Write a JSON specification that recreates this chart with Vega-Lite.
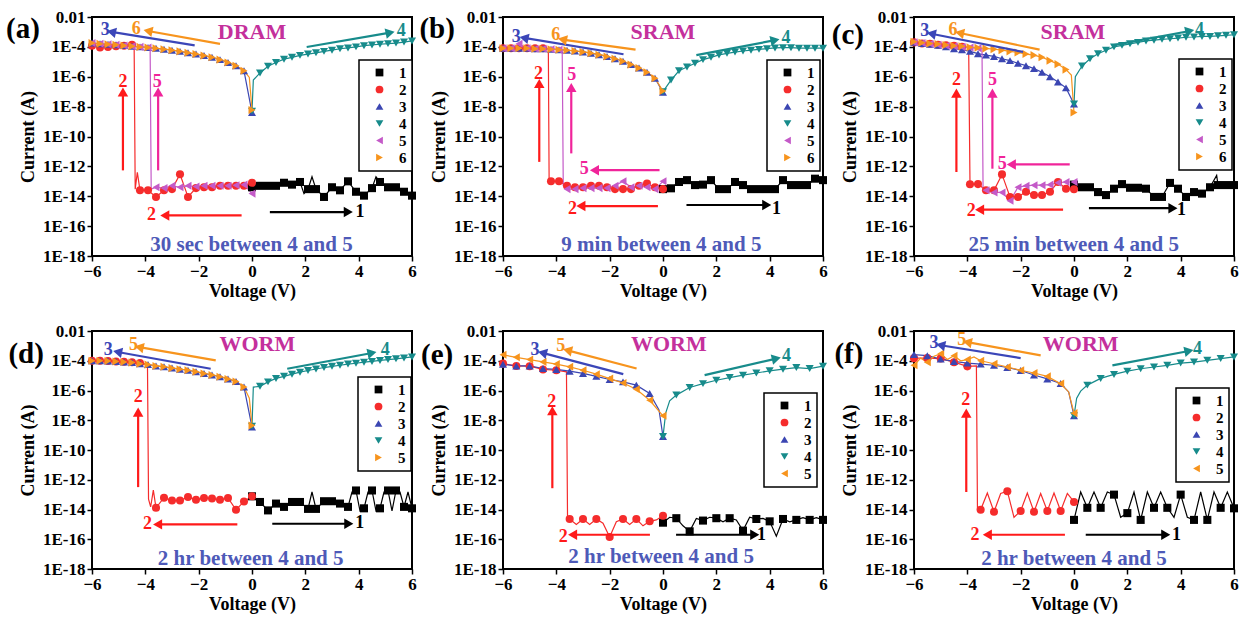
{
"$schema":"https://vega.github.io/schema/vega-lite/v6.json",
"padding":{"left":5,"top":7,"right":0,"bottom":0},
"background":"#ffffff",
"datasets":{
"a":[
{"s":"1","v":0,"i":4e-14},{"s":"1","v":0.3,"i":5e-14},{"s":"1","v":0.6,"i":5e-14},{"s":"1","v":0.9,"i":5e-14},{"s":"1","v":1.2,"i":8e-14},{"s":"1","v":1.5,"i":6e-14},{"s":"1","v":1.8,"i":9e-14},{"s":"1","v":1.95,"i":1.5e-14},{"s":"1","v":2.1,"i":3e-14},{"s":"1","v":2.25,"i":2e-13},{"s":"1","v":2.4,"i":3e-14},{"s":"1","v":2.7,"i":9e-15},{"s":"1","v":3,"i":4e-14},{"s":"1","v":3.3,"i":2.5e-14},{"s":"1","v":3.6,"i":1e-13},{"s":"1","v":3.9,"i":2e-14},{"s":"1","v":4.2,"i":1.1e-14},{"s":"1","v":4.5,"i":3.5e-14},{"s":"1","v":4.65,"i":2e-13},{"s":"1","v":4.8,"i":9e-14},{"s":"1","v":5.1,"i":4e-14},{"s":"1","v":5.4,"i":4e-14},{"s":"1","v":5.7,"i":2e-14},{"s":"1","v":6,"i":1.1e-14},
{"s":"2","v":0,"i":8e-14},{"s":"2","v":-0.3,"i":5e-14},{"s":"2","v":-0.6,"i":5e-14},{"s":"2","v":-0.9,"i":5e-14},{"s":"2","v":-1.2,"i":5e-14},{"s":"2","v":-1.5,"i":4e-14},{"s":"2","v":-1.8,"i":4e-14},{"s":"2","v":-2.1,"i":3.5e-14},{"s":"2","v":-2.4,"i":9e-15},{"s":"2","v":-2.7,"i":3e-13},{"s":"2","v":-3,"i":3e-14},{"s":"2","v":-3.3,"i":2.5e-14},{"s":"2","v":-3.6,"i":9e-15},{"s":"2","v":-3.9,"i":2.5e-14},{"s":"2","v":-4.2,"i":2.5e-14},{"s":"2","v":-4.3,"i":4e-13},{"s":"2","v":-4.38,"i":3e-14},{"s":"2","v":-4.42,"i":1.3e-4},{"s":"2","v":-4.5,"i":1.4e-4},{"s":"2","v":-4.8,"i":1.2e-4},{"s":"2","v":-5.1,"i":1.1e-4},{"s":"2","v":-5.4,"i":1e-4},{"s":"2","v":-5.7,"i":9e-5},{"s":"2","v":-6,"i":1.2e-4},
{"s":"3","v":-6,"i":1.8e-4},{"s":"3","v":-5.7,"i":1.6e-4},{"s":"3","v":-5.4,"i":1.5e-4},{"s":"3","v":-5.1,"i":1.4e-4},{"s":"3","v":-4.8,"i":1.25e-4},{"s":"3","v":-4.5,"i":1.1e-4},{"s":"3","v":-4.2,"i":1e-4},{"s":"3","v":-3.9,"i":9e-5},{"s":"3","v":-3.6,"i":8e-5},{"s":"3","v":-3.3,"i":7e-5},{"s":"3","v":-3,"i":6e-5},{"s":"3","v":-2.7,"i":5e-5},{"s":"3","v":-2.4,"i":4e-5},{"s":"3","v":-2.1,"i":3.3e-5},{"s":"3","v":-1.8,"i":2.6e-5},{"s":"3","v":-1.5,"i":2e-5},{"s":"3","v":-1.2,"i":1.4e-5},{"s":"3","v":-0.9,"i":9e-6},{"s":"3","v":-0.6,"i":5.5e-6},{"s":"3","v":-0.3,"i":2.5e-6},{"s":"3","v":0,"i":4e-9},
{"s":"4","v":0,"i":5e-9},{"s":"4","v":0.05,"i":6e-7},{"s":"4","v":0.3,"i":1.8e-6},{"s":"4","v":0.6,"i":5e-6},{"s":"4","v":0.9,"i":9e-6},{"s":"4","v":1.2,"i":1.5e-5},{"s":"4","v":1.5,"i":2e-5},{"s":"4","v":1.8,"i":2.7e-5},{"s":"4","v":2.1,"i":3.3e-5},{"s":"4","v":2.4,"i":4e-5},{"s":"4","v":2.7,"i":5e-5},{"s":"4","v":3,"i":6e-5},{"s":"4","v":3.3,"i":7.5e-5},{"s":"4","v":3.6,"i":8.5e-5},{"s":"4","v":3.9,"i":1e-4},{"s":"4","v":4.2,"i":1.2e-4},{"s":"4","v":4.5,"i":1.35e-4},{"s":"4","v":4.8,"i":1.5e-4},{"s":"4","v":5.1,"i":1.65e-4},{"s":"4","v":5.4,"i":1.8e-4},{"s":"4","v":5.7,"i":2.1e-4},{"s":"4","v":6,"i":2.5e-4},
{"s":"5","v":-6,"i":1.8e-4},{"s":"5","v":-5.7,"i":1.6e-4},{"s":"5","v":-5.4,"i":1.5e-4},{"s":"5","v":-5.1,"i":1.4e-4},{"s":"5","v":-4.8,"i":1.25e-4},{"s":"5","v":-4.5,"i":1.1e-4},{"s":"5","v":-4.2,"i":1e-4},{"s":"5","v":-3.9,"i":9e-5},{"s":"5","v":-3.82,"i":8.5e-5},{"s":"5","v":-3.78,"i":3e-14},{"s":"5","v":-3.6,"i":4e-14},{"s":"5","v":-3.3,"i":3.5e-14},{"s":"5","v":-3,"i":5e-14},{"s":"5","v":-2.7,"i":4e-14},{"s":"5","v":-2.4,"i":5e-14},{"s":"5","v":-2.1,"i":4.5e-14},{"s":"5","v":-1.8,"i":5e-14},{"s":"5","v":-1.5,"i":5e-14},{"s":"5","v":-1.2,"i":5e-14},{"s":"5","v":-0.9,"i":5e-14},{"s":"5","v":-0.6,"i":5.5e-14},{"s":"5","v":-0.3,"i":6e-14},{"s":"5","v":0,"i":1.5e-14},
{"s":"6","v":-6,"i":1.8e-4},{"s":"6","v":-5.7,"i":1.6e-4},{"s":"6","v":-5.4,"i":1.5e-4},{"s":"6","v":-5.1,"i":1.4e-4},{"s":"6","v":-4.8,"i":1.25e-4},{"s":"6","v":-4.5,"i":1.1e-4},{"s":"6","v":-4.2,"i":1e-4},{"s":"6","v":-3.9,"i":9e-5},{"s":"6","v":-3.6,"i":8e-5},{"s":"6","v":-3.3,"i":7e-5},{"s":"6","v":-3,"i":6e-5},{"s":"6","v":-2.7,"i":5e-5},{"s":"6","v":-2.4,"i":4e-5},{"s":"6","v":-2.1,"i":3.3e-5},{"s":"6","v":-1.8,"i":2.6e-5},{"s":"6","v":-1.5,"i":2e-5},{"s":"6","v":-1.2,"i":1.4e-5},{"s":"6","v":-0.9,"i":9e-6},{"s":"6","v":-0.6,"i":5.5e-6},{"s":"6","v":-0.3,"i":2.5e-6},{"s":"6","v":-0.1,"i":9e-7},{"s":"6","v":0,"i":6e-9}
],
"b":[
{"s":"1","v":0,"i":3e-14},{"s":"1","v":0.3,"i":3.4e-14},{"s":"1","v":0.6,"i":9e-14},{"s":"1","v":0.9,"i":1.2e-13},{"s":"1","v":1.2,"i":5.6e-14},{"s":"1","v":1.5,"i":6e-14},{"s":"1","v":1.8,"i":1.2e-13},{"s":"1","v":2.1,"i":3e-14},{"s":"1","v":2.4,"i":3e-14},{"s":"1","v":2.7,"i":9e-14},{"s":"1","v":3,"i":5.6e-14},{"s":"1","v":3.3,"i":3e-14},{"s":"1","v":3.6,"i":3e-14},{"s":"1","v":3.9,"i":3e-14},{"s":"1","v":4.2,"i":3e-14},{"s":"1","v":4.5,"i":1.2e-13},{"s":"1","v":4.8,"i":5.6e-14},{"s":"1","v":5.1,"i":5.6e-14},{"s":"1","v":5.4,"i":5.6e-14},{"s":"1","v":5.7,"i":1.5e-13},{"s":"1","v":6,"i":1.2e-13},
{"s":"2","v":0,"i":3e-14},{"s":"2","v":-0.3,"i":4e-14},{"s":"2","v":-0.6,"i":7e-14},{"s":"2","v":-0.9,"i":5e-14},{"s":"2","v":-1.2,"i":3e-14},{"s":"2","v":-1.5,"i":3e-14},{"s":"2","v":-1.8,"i":3e-14},{"s":"2","v":-2.1,"i":4e-14},{"s":"2","v":-2.4,"i":5e-14},{"s":"2","v":-2.7,"i":5e-14},{"s":"2","v":-3,"i":4e-14},{"s":"2","v":-3.3,"i":4e-14},{"s":"2","v":-3.6,"i":5e-14},{"s":"2","v":-3.9,"i":1e-13},{"s":"2","v":-4.2,"i":1e-13},{"s":"2","v":-4.27,"i":9e-14},{"s":"2","v":-4.3,"i":8e-5},{"s":"2","v":-4.5,"i":8e-5},{"s":"2","v":-4.8,"i":8e-5},{"s":"2","v":-5.1,"i":8e-5},{"s":"2","v":-5.4,"i":8e-5},{"s":"2","v":-5.7,"i":8e-5},{"s":"2","v":-6,"i":8e-5},
{"s":"3","v":-6,"i":8e-5},{"s":"3","v":-5.7,"i":8e-5},{"s":"3","v":-5.4,"i":8e-5},{"s":"3","v":-5.1,"i":8e-5},{"s":"3","v":-4.8,"i":7.5e-5},{"s":"3","v":-4.5,"i":7.5e-5},{"s":"3","v":-4.2,"i":7e-5},{"s":"3","v":-3.9,"i":6.5e-5},{"s":"3","v":-3.6,"i":6e-5},{"s":"3","v":-3.3,"i":5.3e-5},{"s":"3","v":-3,"i":4.6e-5},{"s":"3","v":-2.7,"i":3.8e-5},{"s":"3","v":-2.4,"i":3e-5},{"s":"3","v":-2.1,"i":2.3e-5},{"s":"3","v":-1.8,"i":1.6e-5},{"s":"3","v":-1.5,"i":1.1e-5},{"s":"3","v":-1.2,"i":6.5e-6},{"s":"3","v":-0.9,"i":3.8e-6},{"s":"3","v":-0.6,"i":2e-6},{"s":"3","v":-0.3,"i":8e-7},{"s":"3","v":0,"i":9e-8},
{"s":"4","v":0,"i":1e-7},{"s":"4","v":0.3,"i":6e-7},{"s":"4","v":0.6,"i":2.5e-6},{"s":"4","v":0.9,"i":4.5e-6},{"s":"4","v":1.2,"i":8e-6},{"s":"4","v":1.5,"i":1.4e-5},{"s":"4","v":1.8,"i":2e-5},{"s":"4","v":2.1,"i":2.9e-5},{"s":"4","v":2.4,"i":3.7e-5},{"s":"4","v":2.7,"i":4.5e-5},{"s":"4","v":3,"i":5.3e-5},{"s":"4","v":3.3,"i":6e-5},{"s":"4","v":3.6,"i":6.8e-5},{"s":"4","v":3.9,"i":7.6e-5},{"s":"4","v":4.2,"i":8.5e-5},{"s":"4","v":4.5,"i":8.8e-5},{"s":"4","v":4.8,"i":8.8e-5},{"s":"4","v":5.1,"i":8.2e-5},{"s":"4","v":5.4,"i":8.2e-5},{"s":"4","v":5.7,"i":8.2e-5},{"s":"4","v":6,"i":8.2e-5},
{"s":"5","v":-6,"i":8e-5},{"s":"5","v":-5.7,"i":8e-5},{"s":"5","v":-5.4,"i":1.6e-4},{"s":"5","v":-5.1,"i":8e-5},{"s":"5","v":-4.8,"i":7.5e-5},{"s":"5","v":-4.5,"i":7.5e-5},{"s":"5","v":-4.2,"i":7e-5},{"s":"5","v":-3.9,"i":6.5e-5},{"s":"5","v":-3.78,"i":6.2e-5},{"s":"5","v":-3.74,"i":5e-14},{"s":"5","v":-3.6,"i":3e-14},{"s":"5","v":-3.3,"i":3e-14},{"s":"5","v":-3,"i":3.5e-14},{"s":"5","v":-2.7,"i":3.5e-14},{"s":"5","v":-2.4,"i":3.5e-14},{"s":"5","v":-2.1,"i":3.5e-14},{"s":"5","v":-1.8,"i":5e-14},{"s":"5","v":-1.5,"i":1e-13},{"s":"5","v":-1.2,"i":4e-14},{"s":"5","v":-0.9,"i":5e-14},{"s":"5","v":-0.6,"i":4e-14},{"s":"5","v":-0.3,"i":3e-14},{"s":"5","v":0,"i":1e-13},
{"s":"6","v":-6,"i":8e-5},{"s":"6","v":-5.7,"i":8e-5},{"s":"6","v":-5.4,"i":8e-5},{"s":"6","v":-5.1,"i":8e-5},{"s":"6","v":-4.8,"i":7.5e-5},{"s":"6","v":-4.5,"i":7.5e-5},{"s":"6","v":-4.2,"i":7e-5},{"s":"6","v":-3.9,"i":6.5e-5},{"s":"6","v":-3.6,"i":6e-5},{"s":"6","v":-3.3,"i":5.3e-5},{"s":"6","v":-3,"i":4.6e-5},{"s":"6","v":-2.7,"i":3.8e-5},{"s":"6","v":-2.4,"i":3e-5},{"s":"6","v":-2.1,"i":2.3e-5},{"s":"6","v":-1.8,"i":1.6e-5},{"s":"6","v":-1.5,"i":1.1e-5},{"s":"6","v":-1.2,"i":6.5e-6},{"s":"6","v":-0.9,"i":3.8e-6},{"s":"6","v":-0.6,"i":2e-6},{"s":"6","v":-0.3,"i":8e-7},{"s":"6","v":0,"i":1.1e-7}
],
"c":[
{"s":"1","v":0,"i":6e-14},{"s":"1","v":0.3,"i":4e-14},{"s":"1","v":0.6,"i":4e-14},{"s":"1","v":0.9,"i":1.9e-14},{"s":"1","v":1.2,"i":1.2e-14},{"s":"1","v":1.5,"i":3.2e-14},{"s":"1","v":1.8,"i":6.5e-14},{"s":"1","v":2.1,"i":3.7e-14},{"s":"1","v":2.4,"i":3.7e-14},{"s":"1","v":2.7,"i":3.2e-14},{"s":"1","v":3,"i":9e-15},{"s":"1","v":3.3,"i":9e-15},{"s":"1","v":3.6,"i":7.8e-14},{"s":"1","v":3.9,"i":3.2e-14},{"s":"1","v":4.2,"i":9e-15},{"s":"1","v":4.5,"i":1.9e-14},{"s":"1","v":4.8,"i":1.5e-14},{"s":"1","v":5.1,"i":4e-14},{"s":"1","v":5.35,"i":2.5e-13},{"s":"1","v":5.4,"i":5.6e-14},{"s":"1","v":5.7,"i":5.6e-14},{"s":"1","v":6,"i":5.6e-14},
{"s":"2","v":0,"i":2.9e-14},{"s":"2","v":-0.3,"i":3.2e-14},{"s":"2","v":-0.6,"i":9e-14},{"s":"2","v":-0.9,"i":2e-14},{"s":"2","v":-1.2,"i":1.2e-14},{"s":"2","v":-1.5,"i":1.2e-14},{"s":"2","v":-1.8,"i":2e-14},{"s":"2","v":-2.1,"i":9e-15},{"s":"2","v":-2.4,"i":9e-15},{"s":"2","v":-2.7,"i":2.9e-13},{"s":"2","v":-3,"i":2.5e-14},{"s":"2","v":-3.3,"i":2.5e-14},{"s":"2","v":-3.6,"i":6.5e-14},{"s":"2","v":-3.9,"i":6.3e-14},{"s":"2","v":-3.95,"i":9e-5},{"s":"2","v":-4.2,"i":1e-4},{"s":"2","v":-4.5,"i":1.2e-4},{"s":"2","v":-4.8,"i":1.3e-4},{"s":"2","v":-5.1,"i":1.4e-4},{"s":"2","v":-5.4,"i":1.6e-4},{"s":"2","v":-5.7,"i":1.7e-4},{"s":"2","v":-6,"i":2e-4},
{"s":"3","v":-6,"i":2e-4},{"s":"3","v":-5.7,"i":1.7e-4},{"s":"3","v":-5.4,"i":1.5e-4},{"s":"3","v":-5.1,"i":1.3e-4},{"s":"3","v":-4.8,"i":1e-4},{"s":"3","v":-4.5,"i":7.6e-5},{"s":"3","v":-4.2,"i":6.5e-5},{"s":"3","v":-3.9,"i":5e-5},{"s":"3","v":-3.6,"i":3.5e-5},{"s":"3","v":-3.3,"i":2.8e-5},{"s":"3","v":-3,"i":2.3e-5},{"s":"3","v":-2.7,"i":1.6e-5},{"s":"3","v":-2.4,"i":1.2e-5},{"s":"3","v":-2.1,"i":8e-6},{"s":"3","v":-1.8,"i":5.5e-6},{"s":"3","v":-1.5,"i":3.5e-6},{"s":"3","v":-1.2,"i":2e-6},{"s":"3","v":-0.9,"i":1e-6},{"s":"3","v":-0.6,"i":4.5e-7},{"s":"3","v":-0.3,"i":1.8e-7},{"s":"3","v":0,"i":1.5e-8},
{"s":"4","v":0,"i":1.5e-8},{"s":"4","v":0.05,"i":1e-6},{"s":"4","v":0.3,"i":5.2e-6},{"s":"4","v":0.6,"i":1.6e-5},{"s":"4","v":0.9,"i":3.5e-5},{"s":"4","v":1.2,"i":5.9e-5},{"s":"4","v":1.5,"i":1e-4},{"s":"4","v":1.8,"i":1.26e-4},{"s":"4","v":2.1,"i":1.6e-4},{"s":"4","v":2.4,"i":2e-4},{"s":"4","v":2.7,"i":2.5e-4},{"s":"4","v":3,"i":2.8e-4},{"s":"4","v":3.3,"i":3.2e-4},{"s":"4","v":3.6,"i":3.5e-4},{"s":"4","v":3.9,"i":3.9e-4},{"s":"4","v":4.2,"i":4.4e-4},{"s":"4","v":4.5,"i":4.6e-4},{"s":"4","v":4.8,"i":5e-4},{"s":"4","v":5.1,"i":5e-4},{"s":"4","v":5.4,"i":5.5e-4},{"s":"4","v":5.7,"i":5.9e-4},{"s":"4","v":6,"i":6.5e-4},
{"s":"5","v":-6,"i":2e-4},{"s":"5","v":-5.7,"i":1.8e-4},{"s":"5","v":-5.4,"i":1.6e-4},{"s":"5","v":-5.1,"i":1.4e-4},{"s":"5","v":-4.8,"i":1.2e-4},{"s":"5","v":-4.5,"i":1.1e-4},{"s":"5","v":-4.2,"i":1e-4},{"s":"5","v":-3.9,"i":9e-5},{"s":"5","v":-3.6,"i":8e-5},{"s":"5","v":-3.45,"i":7.5e-5},{"s":"5","v":-3.41,"i":3.2e-14},{"s":"5","v":-3.3,"i":2.5e-14},{"s":"5","v":-3,"i":1.8e-14},{"s":"5","v":-2.7,"i":1.8e-14},{"s":"5","v":-2.4,"i":5e-15},{"s":"5","v":-2.1,"i":4e-14},{"s":"5","v":-1.8,"i":5e-14},{"s":"5","v":-1.5,"i":5.5e-14},{"s":"5","v":-1.2,"i":5.5e-14},{"s":"5","v":-0.9,"i":6e-14},{"s":"5","v":-0.6,"i":8e-14},{"s":"5","v":-0.3,"i":9e-14},{"s":"5","v":0,"i":9e-14},
{"s":"6","v":-6,"i":2.2e-4},{"s":"6","v":-5.7,"i":1.9e-4},{"s":"6","v":-5.4,"i":1.7e-4},{"s":"6","v":-5.1,"i":1.55e-4},{"s":"6","v":-4.8,"i":1.35e-4},{"s":"6","v":-4.5,"i":1.2e-4},{"s":"6","v":-4.2,"i":1.1e-4},{"s":"6","v":-3.9,"i":9.5e-5},{"s":"6","v":-3.6,"i":8.8e-5},{"s":"6","v":-3.3,"i":7.8e-5},{"s":"6","v":-3,"i":7e-5},{"s":"6","v":-2.7,"i":6e-5},{"s":"6","v":-2.4,"i":5e-5},{"s":"6","v":-2.1,"i":4.2e-5},{"s":"6","v":-1.8,"i":3.3e-5},{"s":"6","v":-1.5,"i":2.8e-5},{"s":"6","v":-1.2,"i":2e-5},{"s":"6","v":-0.9,"i":1.2e-5},{"s":"6","v":-0.6,"i":7e-6},{"s":"6","v":-0.3,"i":3e-6},{"s":"6","v":-0.1,"i":1.3e-6},{"s":"6","v":0,"i":4e-9}
],
"d":[
{"s":"1","v":0,"i":7.7e-14},{"s":"1","v":0.3,"i":3.2e-14},{"s":"1","v":0.6,"i":8.7e-15},{"s":"1","v":0.9,"i":2.5e-14},{"s":"1","v":1.2,"i":1.5e-14},{"s":"1","v":1.5,"i":3.2e-14},{"s":"1","v":1.8,"i":3.2e-14},{"s":"1","v":2.1,"i":1.1e-14},{"s":"1","v":2.25,"i":1.5e-13},{"s":"1","v":2.4,"i":1.1e-14},{"s":"1","v":2.7,"i":3.6e-14},{"s":"1","v":3,"i":3.6e-14},{"s":"1","v":3.3,"i":2.5e-14},{"s":"1","v":3.6,"i":1.5e-14},{"s":"1","v":3.75,"i":1.5e-13},{"s":"1","v":3.9,"i":1.9e-13},{"s":"1","v":4.05,"i":8e-15},{"s":"1","v":4.2,"i":1.2e-14},{"s":"1","v":4.35,"i":1.5e-13},{"s":"1","v":4.5,"i":1.9e-13},{"s":"1","v":4.65,"i":8e-15},{"s":"1","v":4.8,"i":1.2e-14},{"s":"1","v":4.95,"i":1.5e-13},{"s":"1","v":5.1,"i":1.9e-13},{"s":"1","v":5.25,"i":8e-15},{"s":"1","v":5.4,"i":1.9e-13},{"s":"1","v":5.55,"i":1.5e-13},{"s":"1","v":5.7,"i":1.5e-14},{"s":"1","v":5.85,"i":1.5e-13},{"s":"1","v":6,"i":1.2e-14},
{"s":"2","v":0,"i":7.7e-14},{"s":"2","v":-0.3,"i":3.5e-14},{"s":"2","v":-0.6,"i":9.5e-15},{"s":"2","v":-0.9,"i":6e-14},{"s":"2","v":-1.2,"i":4.5e-14},{"s":"2","v":-1.5,"i":5.5e-14},{"s":"2","v":-1.8,"i":6e-14},{"s":"2","v":-2.1,"i":4.5e-14},{"s":"2","v":-2.4,"i":7e-14},{"s":"2","v":-2.7,"i":4e-14},{"s":"2","v":-3,"i":4e-14},{"s":"2","v":-3.3,"i":6.2e-14},{"s":"2","v":-3.6,"i":1.3e-14},{"s":"2","v":-3.7,"i":2e-13},{"s":"2","v":-3.8,"i":1.5e-14},{"s":"2","v":-3.88,"i":5e-14},{"s":"2","v":-3.92,"i":6e-5},{"s":"2","v":-4.2,"i":7e-5},{"s":"2","v":-4.5,"i":8e-5},{"s":"2","v":-4.8,"i":8.5e-5},{"s":"2","v":-5.1,"i":9e-5},{"s":"2","v":-5.4,"i":9.5e-5},{"s":"2","v":-5.7,"i":1e-4},{"s":"2","v":-6,"i":1e-4},
{"s":"3","v":-6,"i":1e-4},{"s":"3","v":-5.7,"i":1e-4},{"s":"3","v":-5.4,"i":9.5e-5},{"s":"3","v":-5.1,"i":9e-5},{"s":"3","v":-4.8,"i":8.3e-5},{"s":"3","v":-4.5,"i":7.5e-5},{"s":"3","v":-4.2,"i":6.3e-5},{"s":"3","v":-3.9,"i":5.5e-5},{"s":"3","v":-3.6,"i":4.5e-5},{"s":"3","v":-3.3,"i":3.9e-5},{"s":"3","v":-3,"i":3.2e-5},{"s":"3","v":-2.7,"i":2.7e-5},{"s":"3","v":-2.4,"i":2.3e-5},{"s":"3","v":-2.1,"i":1.8e-5},{"s":"3","v":-1.8,"i":1.4e-5},{"s":"3","v":-1.5,"i":1.1e-5},{"s":"3","v":-1.2,"i":8.5e-6},{"s":"3","v":-0.9,"i":6e-6},{"s":"3","v":-0.6,"i":4e-6},{"s":"3","v":-0.3,"i":1.7e-6},{"s":"3","v":0,"i":3.5e-9},
{"s":"4","v":0,"i":4e-9},{"s":"4","v":0.05,"i":1.7e-6},{"s":"4","v":0.3,"i":1.9e-6},{"s":"4","v":0.6,"i":3.8e-6},{"s":"4","v":0.9,"i":6.5e-6},{"s":"4","v":1.2,"i":9e-6},{"s":"4","v":1.5,"i":1.25e-5},{"s":"4","v":1.8,"i":1.7e-5},{"s":"4","v":2.1,"i":2.2e-5},{"s":"4","v":2.4,"i":2.8e-5},{"s":"4","v":2.7,"i":3.5e-5},{"s":"4","v":3,"i":4.2e-5},{"s":"4","v":3.3,"i":5e-5},{"s":"4","v":3.6,"i":6e-5},{"s":"4","v":3.9,"i":6.8e-5},{"s":"4","v":4.2,"i":8e-5},{"s":"4","v":4.5,"i":9e-5},{"s":"4","v":4.8,"i":1.05e-4},{"s":"4","v":5.1,"i":1.2e-4},{"s":"4","v":5.4,"i":1.35e-4},{"s":"4","v":5.7,"i":1.55e-4},{"s":"4","v":6,"i":1.8e-4},
{"s":"5","v":-6,"i":1e-4},{"s":"5","v":-5.7,"i":1e-4},{"s":"5","v":-5.4,"i":9.5e-5},{"s":"5","v":-5.1,"i":9e-5},{"s":"5","v":-4.8,"i":8.3e-5},{"s":"5","v":-4.5,"i":7.5e-5},{"s":"5","v":-4.2,"i":6.3e-5},{"s":"5","v":-3.9,"i":5.5e-5},{"s":"5","v":-3.6,"i":4.5e-5},{"s":"5","v":-3.3,"i":3.9e-5},{"s":"5","v":-3,"i":3.2e-5},{"s":"5","v":-2.7,"i":2.7e-5},{"s":"5","v":-2.4,"i":2.3e-5},{"s":"5","v":-2.1,"i":1.8e-5},{"s":"5","v":-1.8,"i":1.4e-5},{"s":"5","v":-1.5,"i":1.1e-5},{"s":"5","v":-1.2,"i":8.5e-6},{"s":"5","v":-0.9,"i":6e-6},{"s":"5","v":-0.6,"i":4e-6},{"s":"5","v":-0.3,"i":1.7e-6},{"s":"5","v":-0.1,"i":3e-7},{"s":"5","v":0,"i":4.5e-9}
],
"e":[
{"s":"1","v":0,"i":1.3e-15},{"s":"1","v":0.25,"i":3e-15},{"s":"1","v":0.5,"i":2.6e-15},{"s":"1","v":0.75,"i":8e-16},{"s":"1","v":1,"i":3.4e-16},{"s":"1","v":1.25,"i":2.5e-15},{"s":"1","v":1.5,"i":1.8e-15},{"s":"1","v":1.75,"i":3e-15},{"s":"1","v":2,"i":2.6e-15},{"s":"1","v":2.25,"i":1.5e-15},{"s":"1","v":2.5,"i":2.6e-15},{"s":"1","v":2.75,"i":2e-15},{"s":"1","v":3,"i":3.8e-16},{"s":"1","v":3.25,"i":3e-15},{"s":"1","v":3.5,"i":2.3e-15},{"s":"1","v":3.75,"i":2.5e-15},{"s":"1","v":4,"i":1.6e-15},{"s":"1","v":4.25,"i":1.6e-16},{"s":"1","v":4.5,"i":2.3e-15},{"s":"1","v":4.75,"i":1.5e-15},{"s":"1","v":5,"i":2e-15},{"s":"1","v":5.25,"i":2.8e-15},{"s":"1","v":5.5,"i":2e-15},{"s":"1","v":5.75,"i":2.8e-15},{"s":"1","v":6,"i":2e-15},
{"s":"2","v":0,"i":3.8e-15},{"s":"2","v":-0.25,"i":2e-15},{"s":"2","v":-0.5,"i":1.6e-15},{"s":"2","v":-0.75,"i":8e-16},{"s":"2","v":-1,"i":2.3e-15},{"s":"2","v":-1.25,"i":1e-15},{"s":"2","v":-1.5,"i":2.3e-15},{"s":"2","v":-1.75,"i":1.5e-15},{"s":"2","v":-2,"i":1.4e-16},{"s":"2","v":-2.25,"i":1.2e-15},{"s":"2","v":-2.5,"i":2.3e-15},{"s":"2","v":-2.75,"i":1e-15},{"s":"2","v":-3,"i":2.3e-15},{"s":"2","v":-3.25,"i":1e-15},{"s":"2","v":-3.5,"i":2.3e-15},{"s":"2","v":-3.58,"i":2.5e-15},{"s":"2","v":-3.62,"i":1.8e-5},{"s":"2","v":-4,"i":2.3e-5},{"s":"2","v":-4.5,"i":2.6e-5},{"s":"2","v":-5,"i":4.3e-5},{"s":"2","v":-5.5,"i":4.5e-5},{"s":"2","v":-6,"i":6.4e-5},
{"s":"3","v":-6,"i":5.9e-5},{"s":"3","v":-5.5,"i":4.5e-5},{"s":"3","v":-5,"i":4.5e-5},{"s":"3","v":-4.5,"i":3e-5},{"s":"3","v":-4,"i":2.6e-5},{"s":"3","v":-3.5,"i":2e-5},{"s":"3","v":-3,"i":1.4e-5},{"s":"3","v":-2.5,"i":9e-6},{"s":"3","v":-2,"i":5.5e-6},{"s":"3","v":-1.5,"i":3.8e-6},{"s":"3","v":-1,"i":2.3e-6},{"s":"3","v":-0.5,"i":6.3e-7},{"s":"3","v":-0.15,"i":5e-8},{"s":"3","v":0,"i":8e-10},
{"s":"4","v":0,"i":8e-10},{"s":"4","v":0.1,"i":3e-8},{"s":"4","v":0.25,"i":2e-7},{"s":"4","v":0.5,"i":4.9e-7},{"s":"4","v":1,"i":1.6e-6},{"s":"4","v":1.5,"i":2.9e-6},{"s":"4","v":2,"i":4.9e-6},{"s":"4","v":2.5,"i":7.4e-6},{"s":"4","v":3,"i":1.07e-5},{"s":"4","v":3.5,"i":1.5e-5},{"s":"4","v":4,"i":2.1e-5},{"s":"4","v":4.5,"i":2.7e-5},{"s":"4","v":5,"i":3.5e-5},{"s":"4","v":5.5,"i":3e-5},{"s":"4","v":6,"i":4.3e-5},
{"s":"5","v":-6,"i":2.5e-4},{"s":"5","v":-5.5,"i":1.7e-4},{"s":"5","v":-5,"i":1.2e-4},{"s":"5","v":-4.5,"i":8.4e-5},{"s":"5","v":-4,"i":6e-5},{"s":"5","v":-3.5,"i":3.9e-5},{"s":"5","v":-3,"i":2.3e-5},{"s":"5","v":-2.5,"i":1.25e-5},{"s":"5","v":-2,"i":6.3e-6},{"s":"5","v":-1.5,"i":3.2e-6},{"s":"5","v":-1,"i":1.2e-6},{"s":"5","v":-0.5,"i":2.2e-7},{"s":"5","v":0,"i":2e-8}
],
"f":[
{"s":"1","v":0,"i":2e-15},{"s":"1","v":0.25,"i":1.5e-13},{"s":"1","v":0.5,"i":1.3e-14},{"s":"1","v":0.75,"i":1.5e-13},{"s":"1","v":1,"i":1.3e-14},{"s":"1","v":1.25,"i":1.5e-13},{"s":"1","v":1.5,"i":1e-13},{"s":"1","v":1.75,"i":3e-15},{"s":"1","v":2,"i":5.7e-15},{"s":"1","v":2.25,"i":1.5e-13},{"s":"1","v":2.5,"i":2e-15},{"s":"1","v":2.75,"i":1.5e-13},{"s":"1","v":3,"i":1.3e-14},{"s":"1","v":3.25,"i":1.5e-13},{"s":"1","v":3.5,"i":1.3e-14},{"s":"1","v":3.75,"i":3e-15},{"s":"1","v":4,"i":1e-13},{"s":"1","v":4.25,"i":3e-15},{"s":"1","v":4.5,"i":2e-15},{"s":"1","v":4.75,"i":1.5e-13},{"s":"1","v":5,"i":2e-15},{"s":"1","v":5.25,"i":1.5e-13},{"s":"1","v":5.5,"i":1.3e-14},{"s":"1","v":5.75,"i":1.5e-13},{"s":"1","v":6,"i":1.2e-14},
{"s":"2","v":0,"i":3.2e-14},{"s":"2","v":-0.25,"i":1.2e-13},{"s":"2","v":-0.5,"i":8e-15},{"s":"2","v":-0.75,"i":1.3e-13},{"s":"2","v":-1,"i":8e-15},{"s":"2","v":-1.25,"i":1.2e-13},{"s":"2","v":-1.5,"i":7e-15},{"s":"2","v":-1.75,"i":1.3e-13},{"s":"2","v":-2,"i":8e-15},{"s":"2","v":-2.25,"i":3e-15},{"s":"2","v":-2.5,"i":1.7e-13},{"s":"2","v":-2.75,"i":1.2e-13},{"s":"2","v":-3,"i":7e-15},{"s":"2","v":-3.25,"i":1.3e-13},{"s":"2","v":-3.5,"i":9.5e-15},{"s":"2","v":-3.62,"i":9e-15},{"s":"2","v":-3.66,"i":4.5e-5},{"s":"2","v":-4,"i":4.2e-5},{"s":"2","v":-4.5,"i":8e-5},{"s":"2","v":-5,"i":1.4e-4},{"s":"2","v":-5.5,"i":1.5e-4},{"s":"2","v":-6,"i":1.5e-4},
{"s":"3","v":-6,"i":2.6e-4},{"s":"3","v":-5.5,"i":2.2e-4},{"s":"3","v":-5,"i":1.3e-4},{"s":"3","v":-4.5,"i":9e-5},{"s":"3","v":-4,"i":7e-5},{"s":"3","v":-3.5,"i":6e-5},{"s":"3","v":-3,"i":5e-5},{"s":"3","v":-2.5,"i":3.5e-5},{"s":"3","v":-2,"i":2.2e-5},{"s":"3","v":-1.5,"i":1.1e-5},{"s":"3","v":-1,"i":6e-6},{"s":"3","v":-0.5,"i":3e-6},{"s":"3","v":-0.2,"i":8e-7},{"s":"3","v":0,"i":2e-8},
{"s":"4","v":0,"i":2e-8},{"s":"4","v":0.1,"i":3e-7},{"s":"4","v":0.25,"i":9e-7},{"s":"4","v":0.5,"i":2.3e-6},{"s":"4","v":1,"i":6.5e-6},{"s":"4","v":1.5,"i":1.2e-5},{"s":"4","v":2,"i":2e-5},{"s":"4","v":2.5,"i":2.9e-5},{"s":"4","v":3,"i":3.8e-5},{"s":"4","v":3.5,"i":4.9e-5},{"s":"4","v":4,"i":7e-5},{"s":"4","v":4.5,"i":8.2e-5},{"s":"4","v":5,"i":1.07e-4},{"s":"4","v":5.5,"i":1.4e-4},{"s":"4","v":6,"i":1.8e-4},
{"s":"5","v":-6,"i":5e-5},{"s":"5","v":-5.75,"i":1.5e-4},{"s":"5","v":-5.5,"i":8e-5},{"s":"5","v":-5.25,"i":2e-4},{"s":"5","v":-5,"i":3e-4},{"s":"5","v":-4.75,"i":1.2e-4},{"s":"5","v":-4.5,"i":2.2e-4},{"s":"5","v":-4.25,"i":1e-4},{"s":"5","v":-4,"i":1.2e-4},{"s":"5","v":-3.75,"i":1.8e-4},{"s":"5","v":-3.5,"i":1e-4},{"s":"5","v":-3,"i":6.3e-5},{"s":"5","v":-2.5,"i":3.8e-5},{"s":"5","v":-2,"i":2.3e-5},{"s":"5","v":-1.5,"i":1.5e-5},{"s":"5","v":-1,"i":8.9e-6},{"s":"5","v":-0.5,"i":2.9e-6},{"s":"5","v":-0.2,"i":8e-7},{"s":"5","v":0,"i":3e-8}
],
"ann":[
{"p":"a","s":"3","d":"UL","x":-2.15,"y":1.25e-4,"x2":-5.27,"y2":1e-3},
{"p":"a","s":"6","d":"UL","x":-1.2,"y":1.6e-4,"x2":-3.9,"y2":1.15e-3},
{"p":"a","s":"4","d":"UR","x":2.05,"y":9.8e-5,"x2":5.18,"y2":8.9e-4},
{"p":"a","s":"2","d":"U","x":-4.84,"y":5.4e-13,"x2":-4.84,"y2":9.5e-8},
{"p":"a","s":"5","d":"U","x":-3.52,"y":5.4e-13,"x2":-3.52,"y2":9.5e-8},
{"p":"a","s":"2","d":"L","x":-0.39,"y":5.2e-16,"x2":-3.27,"y2":5.2e-16},
{"p":"a","s":"1","d":"R","x":0.67,"y":8.7e-16,"x2":3.61,"y2":8.7e-16},
{"p":"b","s":"3","d":"UL","x":-1.48,"y":3.2e-5,"x2":-5.21,"y2":4e-4},
{"p":"b","s":"6","d":"UL","x":-1.03,"y":6.6e-5,"x2":-3.77,"y2":3.1e-4},
{"p":"b","s":"4","d":"UR","x":1.25,"y":2.8e-5,"x2":4.2,"y2":2.8e-4},
{"p":"b","s":"2","d":"U","x":-4.64,"y":2e-12,"x2":-4.64,"y2":3.5e-7},
{"p":"b","s":"5","d":"U","x":-3.44,"y":7.4e-12,"x2":-3.44,"y2":1.9e-7},
{"p":"b","s":"5","d":"L","x":-0.13,"y":5.6e-13,"x2":-2.57,"y2":5.6e-13},
{"p":"b","s":"2","d":"L","x":-0.19,"y":2.2e-15,"x2":-3.08,"y2":2.2e-15},
{"p":"b","s":"1","d":"R","x":0.88,"y":2.6e-15,"x2":3.89,"y2":2.6e-15},
{"p":"c","s":"3","d":"UL","x":-1.91,"y":4.6e-5,"x2":-5.35,"y2":7.6e-4},
{"p":"c","s":"6","d":"UL","x":-1.29,"y":6.5e-5,"x2":-4.29,"y2":8.5e-4},
{"p":"c","s":"4","d":"UR","x":1.44,"y":1.26e-4,"x2":4.34,"y2":1.15e-3},
{"p":"c","s":"2","d":"U","x":-4.41,"y":4.2e-13,"x2":-4.41,"y2":8e-8},
{"p":"c","s":"5","d":"U","x":-3.06,"y":7e-13,"x2":-3.06,"y2":8e-8},
{"p":"c","s":"5","d":"L","x":-0.16,"y":1.35e-12,"x2":-2.35,"y2":1.35e-12},
{"p":"c","s":"2","d":"L","x":-0.41,"y":1.26e-15,"x2":-3.54,"y2":1.26e-15},
{"p":"c","s":"1","d":"R","x":0.56,"y":1.6e-15,"x2":3.71,"y2":1.6e-15},
{"p":"d","s":"3","d":"UL","x":-1.55,"y":2.9e-5,"x2":-5.04,"y2":3.9e-4},
{"p":"d","s":"5","d":"UL","x":-1.36,"y":1.07e-4,"x2":-4.23,"y2":8.3e-4},
{"p":"d","s":"4","d":"UR","x":1.32,"y":2.9e-5,"x2":4.5,"y2":3.3e-4},
{"p":"d","s":"2","d":"U","x":-4.27,"y":3.2e-13,"x2":-4.27,"y2":3.5e-8},
{"p":"d","s":"2","d":"L","x":-0.55,"y":1e-15,"x2":-3.54,"y2":1e-15},
{"p":"d","s":"1","d":"R","x":0.76,"y":1.1e-15,"x2":3.63,"y2":1.1e-15},
{"p":"e","s":"3","d":"UL","x":-1.49,"y":1.26e-5,"x2":-4.52,"y2":3.4e-4},
{"p":"e","s":"5","d":"UL","x":-0.99,"y":3e-5,"x2":-3.58,"y2":5e-4},
{"p":"e","s":"4","d":"UR","x":1.56,"y":1.07e-5,"x2":4.25,"y2":1.4e-4},
{"p":"e","s":"2","d":"U","x":-4.15,"y":2.7e-13,"x2":-4.15,"y2":4.4e-8},
{"p":"e","s":"2","d":"L","x":-0.49,"y":2e-16,"x2":-3.39,"y2":2e-16},
{"p":"e","s":"1","d":"R","x":0.49,"y":2e-16,"x2":3.44,"y2":2e-16},
{"p":"f","s":"3","d":"UL","x":-2,"y":1.5e-4,"x2":-5,"y2":1.1e-3},
{"p":"f","s":"5","d":"UL","x":-1.25,"y":2.3e-4,"x2":-4,"y2":1.8e-3},
{"p":"f","s":"4","d":"UR","x":1.44,"y":4.9e-5,"x2":4.31,"y2":4.5e-4},
{"p":"f","s":"2","d":"U","x":-4.04,"y":1.5e-13,"x2":-4.04,"y2":3e-8},
{"p":"f","s":"2","d":"L","x":-0.34,"y":2e-16,"x2":-3.25,"y2":2e-16},
{"p":"f","s":"1","d":"R","x":0.44,"y":2e-16,"x2":3.44,"y2":2e-16}
],
"lab":[
{"p":"a","s":"3","x":-5.5,"y":1.4e-3},{"p":"a","s":"6","x":-4.34,"y":1.65e-3},{"p":"a","s":"4","x":5.6,"y":1.15e-3},{"p":"a","s":"2","x":-4.84,"y":4.5e-7},{"p":"a","s":"5","x":-3.55,"y":4.5e-7},{"p":"a","s":"2","x":-3.77,"y":5.2e-16},{"p":"a","s":"1","x":4.05,"y":8.7e-16},
{"p":"b","s":"3","x":-5.5,"y":4.6e-4},{"p":"b","s":"6","x":-4.02,"y":6e-4},{"p":"b","s":"4","x":4.61,"y":4.2e-4},{"p":"b","s":"2","x":-4.67,"y":1.5e-6},{"p":"b","s":"5","x":-3.42,"y":1.3e-6},{"p":"b","s":"5","x":-2.95,"y":6.3e-13},{"p":"b","s":"2","x":-3.39,"y":1.35e-15},{"p":"b","s":"1","x":4.26,"y":1.35e-15},
{"p":"c","s":"3","x":-5.6,"y":1.15e-3},{"p":"c","s":"6","x":-4.54,"y":1.4e-3},{"p":"c","s":"4","x":4.71,"y":1.4e-3},{"p":"c","s":"2","x":-4.41,"y":5.8e-7},{"p":"c","s":"5","x":-3.06,"y":5.8e-7},{"p":"c","s":"5","x":-2.69,"y":1.35e-12},{"p":"c","s":"2","x":-3.85,"y":1.1e-15},{"p":"c","s":"1","x":4.03,"y":1.26e-15},
{"p":"d","s":"3","x":-5.39,"y":5.5e-4},{"p":"d","s":"5","x":-4.44,"y":1.1e-3},{"p":"d","s":"4","x":5,"y":5.5e-4},{"p":"d","s":"2","x":-4.27,"y":3.6e-7},{"p":"d","s":"2","x":-3.92,"y":1e-15},{"p":"d","s":"1","x":4.04,"y":1.2e-15},
{"p":"e","s":"3","x":-4.8,"y":5e-4},{"p":"e","s":"5","x":-3.83,"y":9.3e-4},{"p":"e","s":"4","x":4.63,"y":2e-4},{"p":"e","s":"2","x":-4.17,"y":1.7e-7},{"p":"e","s":"2","x":-3.74,"y":1.5e-16},{"p":"e","s":"1","x":3.69,"y":1.8e-16},
{"p":"f","s":"3","x":-5.25,"y":1.55e-3},{"p":"f","s":"5","x":-4.21,"y":2.3e-3},{"p":"f","s":"4","x":4.63,"y":6.5e-4},{"p":"f","s":"2","x":-4.06,"y":2.2e-7},{"p":"f","s":"2","x":-3.71,"y":1.8e-16},{"p":"f","s":"1","x":3.84,"y":2e-16}
],
"txt":[
{"p":"a","k":"m","t":"DRAM","x":0,"y":1e-3},{"p":"a","k":"n","t":"30 sec between 4 and 5","x":-0.02,"y":5.1e-18},{"p":"a","k":"t","t":"(a)","x":-8.59,"y":1.65e-3},
{"p":"b","k":"m","t":"SRAM","x":0,"y":1e-3},{"p":"b","k":"n","t":"9 min between 4 and 5","x":-0.06,"y":5.5e-18},{"p":"b","k":"t","t":"(b)","x":-8.47,"y":1.65e-3},
{"p":"c","k":"m","t":"SRAM","x":-0.04,"y":1e-3},{"p":"c","k":"n","t":"25 min between 4 and 5","x":-0.01,"y":5.1e-18},{"p":"c","k":"t","t":"(c)","x":-8.48,"y":5.9e-4},
{"p":"d","k":"m","t":"WORM","x":0.2,"y":1.4e-3},{"p":"d","k":"n","t":"2 hr between 4 and 5","x":-0.05,"y":4.9e-18},{"p":"d","k":"t","t":"(d)","x":-8.47,"y":3e-4},
{"p":"e","k":"m","t":"WORM","x":0.22,"y":1.4e-3},{"p":"e","k":"n","t":"2 hr between 4 and 5","x":-0.07,"y":6.3e-18},{"p":"e","k":"t","t":"(e)","x":-8.47,"y":2.3e-4},
{"p":"f","k":"m","t":"WORM","x":0.25,"y":1.4e-3},{"p":"f","k":"n","t":"2 hr between 4 and 5","x":0,"y":4.9e-18},{"p":"f","k":"t","t":"(f)","x":-8.44,"y":3e-4}
]
},
"columns":3,
"spacing":{"row":75,"column":91},
"bounds":"flush",
"concat":[
{"width":320,"height":239,"layer":[
{"data":{"name":"a"},"mark":{"type":"line","strokeWidth":1.2},"encoding":{"x":{"field":"v","type":"quantitative","scale":{"domain":[-6,6],"nice":false,"zero":false},"axis":{"title":"Voltage (V)","values":[-6,-5,-4,-3,-2,-1,0,1,2,3,4,5,6],"labelFlush":false}},"y":{"field":"i","type":"quantitative","scale":{"type":"log","domain":[1e-18,0.01],"nice":false},"axis":{"title":"Current (A)","values":[1e-18,1e-16,1e-14,1e-12,1e-10,1e-8,1e-6,1e-4,0.01],"labelExpr":"datum.value > 0.005 ? '0.01' : '1E-' + round(-log(datum.value)/LN10)","labelOverlap":false}},"color":{"field":"s","type":"nominal","scale":{"domain":["1","2","3","4","5","6"],"range":["#000000","#f52c2c","#3b46b2","#178b8b","#c45ac8","#f7941d"]},"legend":{"title":null,"orient":"none","legendX":267,"legendY":43}}}},
{"data":{"name":"a"},"transform":[{"filter":"abs(datum.v*10/3-round(datum.v*10/3))<0.01"}],"mark":{"type":"point","filled":true,"size":65,"opacity":1},"encoding":{"x":{"field":"v","type":"quantitative"},"y":{"field":"i","type":"quantitative"},"color":{"field":"s","type":"nominal","legend":{"title":null,"orient":"none","legendX":267,"legendY":43}},"shape":{"field":"s","type":"nominal","scale":{"domain":["1","2","3","4","5","6"],"range":["square","circle","triangle-up","triangle-down","triangle-left","triangle-right"]},"legend":{"title":null,"orient":"none","legendX":267,"legendY":43}}}},
{"data":{"name":"ann"},"transform":[{"filter":"datum.p=='a'"}],"mark":{"type":"rule","strokeWidth":2.2},"encoding":{"x":{"field":"x","type":"quantitative"},"y":{"field":"y","type":"quantitative"},"x2":{"field":"x2"},"y2":{"field":"y2"},"stroke":{"field":"s","type":"nominal","scale":{"domain":["1","2","3","4","5","6"],"range":["#000000","#ff1a1a","#3b46b8","#178b8b","#f0249a","#f7941d"]},"legend":null}}},
{"data":{"name":"ann"},"transform":[{"filter":"datum.p=='a' && datum.d=='UL'"}],"mark":{"type":"point","shape":"triangle-left","angle":12,"filled":true,"size":110,"opacity":1},"encoding":{"x":{"field":"x2","type":"quantitative"},"y":{"field":"y2","type":"quantitative"},"fill":{"field":"s","type":"nominal","scale":{"domain":["1","2","3","4","5","6"],"range":["#000000","#ff1a1a","#3b46b8","#178b8b","#f0249a","#f7941d"]},"legend":null}}},
{"data":{"name":"ann"},"transform":[{"filter":"datum.p=='a' && datum.d=='UR'"}],"mark":{"type":"point","shape":"triangle-right","angle":348,"filled":true,"size":110,"opacity":1},"encoding":{"x":{"field":"x2","type":"quantitative"},"y":{"field":"y2","type":"quantitative"},"fill":{"field":"s","type":"nominal","legend":null}}},
{"data":{"name":"ann"},"transform":[{"filter":"datum.p=='a' && datum.d=='U'"}],"mark":{"type":"point","shape":"triangle-up","filled":true,"size":110,"opacity":1},"encoding":{"x":{"field":"x2","type":"quantitative"},"y":{"field":"y2","type":"quantitative"},"fill":{"field":"s","type":"nominal","legend":null}}},
{"data":{"name":"ann"},"transform":[{"filter":"datum.p=='a' && datum.d=='L'"}],"mark":{"type":"point","shape":"triangle-left","filled":true,"size":110,"opacity":1},"encoding":{"x":{"field":"x2","type":"quantitative"},"y":{"field":"y2","type":"quantitative"},"fill":{"field":"s","type":"nominal","legend":null}}},
{"data":{"name":"ann"},"transform":[{"filter":"datum.p=='a' && datum.d=='R'"}],"mark":{"type":"point","shape":"triangle-right","filled":true,"size":110,"opacity":1},"encoding":{"x":{"field":"x2","type":"quantitative"},"y":{"field":"y2","type":"quantitative"},"fill":{"field":"s","type":"nominal","legend":null}}},
{"data":{"name":"lab"},"transform":[{"filter":"datum.p=='a'"}],"mark":{"type":"text","font":"Liberation Serif","fontWeight":"bold","fontSize":18},"encoding":{"x":{"field":"x","type":"quantitative"},"y":{"field":"y","type":"quantitative"},"text":{"field":"s"},"fill":{"field":"s","type":"nominal","legend":null}}},
{"data":{"name":"txt"},"transform":[{"filter":"datum.p=='a' && datum.k=='m'"}],"mark":{"type":"text","font":"Liberation Serif","fontWeight":"bold","fontSize":22,"color":"#c4309c"},"encoding":{"x":{"field":"x","type":"quantitative"},"y":{"field":"y","type":"quantitative"},"text":{"field":"t"}}},
{"data":{"name":"txt"},"transform":[{"filter":"datum.p=='a' && datum.k=='n'"}],"mark":{"type":"text","font":"Liberation Serif","fontWeight":"bold","fontSize":21,"color":"#4e5ab8"},"encoding":{"x":{"field":"x","type":"quantitative"},"y":{"field":"y","type":"quantitative"},"text":{"field":"t"}}},
{"data":{"name":"txt"},"transform":[{"filter":"datum.p=='a' && datum.k=='t'"}],"mark":{"type":"text","font":"Liberation Serif","fontWeight":"bold","fontSize":29,"color":"#000000"},"encoding":{"x":{"field":"x","type":"quantitative"},"y":{"field":"y","type":"quantitative"},"text":{"field":"t"}}}
]},
{"width":320,"height":239,"layer":[
{"data":{"name":"b"},"mark":{"type":"line","strokeWidth":1.2},"encoding":{"x":{"field":"v","type":"quantitative","scale":{"domain":[-6,6],"nice":false,"zero":false},"axis":{"title":"Voltage (V)","values":[-6,-5,-4,-3,-2,-1,0,1,2,3,4,5,6],"labelFlush":false}},"y":{"field":"i","type":"quantitative","scale":{"type":"log","domain":[1e-18,0.01],"nice":false},"axis":{"title":"Current (A)","values":[1e-18,1e-16,1e-14,1e-12,1e-10,1e-8,1e-6,1e-4,0.01],"labelExpr":"datum.value > 0.005 ? '0.01' : '1E-' + round(-log(datum.value)/LN10)","labelOverlap":false}},"color":{"field":"s","type":"nominal","scale":{"domain":["1","2","3","4","5","6"],"range":["#000000","#f52c2c","#3b46b2","#178b8b","#c45ac8","#f7941d"]},"legend":{"title":null,"orient":"none","legendX":264,"legendY":43}}}},
{"data":{"name":"b"},"transform":[{"filter":"abs(datum.v*10/3-round(datum.v*10/3))<0.01"}],"mark":{"type":"point","filled":true,"size":65,"opacity":1},"encoding":{"x":{"field":"v","type":"quantitative"},"y":{"field":"i","type":"quantitative"},"color":{"field":"s","type":"nominal","legend":{"title":null,"orient":"none","legendX":264,"legendY":43}},"shape":{"field":"s","type":"nominal","scale":{"domain":["1","2","3","4","5","6"],"range":["square","circle","triangle-up","triangle-down","triangle-left","triangle-right"]},"legend":{"title":null,"orient":"none","legendX":264,"legendY":43}}}},
{"data":{"name":"ann"},"transform":[{"filter":"datum.p=='b'"}],"mark":{"type":"rule","strokeWidth":2.2},"encoding":{"x":{"field":"x","type":"quantitative"},"y":{"field":"y","type":"quantitative"},"x2":{"field":"x2"},"y2":{"field":"y2"},"stroke":{"field":"s","type":"nominal","scale":{"domain":["1","2","3","4","5","6"],"range":["#000000","#ff1a1a","#3b46b8","#178b8b","#f0249a","#f7941d"]},"legend":null}}},
{"data":{"name":"ann"},"transform":[{"filter":"datum.p=='b' && datum.d=='UL'"}],"mark":{"type":"point","shape":"triangle-left","angle":12,"filled":true,"size":110,"opacity":1},"encoding":{"x":{"field":"x2","type":"quantitative"},"y":{"field":"y2","type":"quantitative"},"fill":{"field":"s","type":"nominal","scale":{"domain":["1","2","3","4","5","6"],"range":["#000000","#ff1a1a","#3b46b8","#178b8b","#f0249a","#f7941d"]},"legend":null}}},
{"data":{"name":"ann"},"transform":[{"filter":"datum.p=='b' && datum.d=='UR'"}],"mark":{"type":"point","shape":"triangle-right","angle":348,"filled":true,"size":110,"opacity":1},"encoding":{"x":{"field":"x2","type":"quantitative"},"y":{"field":"y2","type":"quantitative"},"fill":{"field":"s","type":"nominal","legend":null}}},
{"data":{"name":"ann"},"transform":[{"filter":"datum.p=='b' && datum.d=='U'"}],"mark":{"type":"point","shape":"triangle-up","filled":true,"size":110,"opacity":1},"encoding":{"x":{"field":"x2","type":"quantitative"},"y":{"field":"y2","type":"quantitative"},"fill":{"field":"s","type":"nominal","legend":null}}},
{"data":{"name":"ann"},"transform":[{"filter":"datum.p=='b' && datum.d=='L'"}],"mark":{"type":"point","shape":"triangle-left","filled":true,"size":110,"opacity":1},"encoding":{"x":{"field":"x2","type":"quantitative"},"y":{"field":"y2","type":"quantitative"},"fill":{"field":"s","type":"nominal","legend":null}}},
{"data":{"name":"ann"},"transform":[{"filter":"datum.p=='b' && datum.d=='R'"}],"mark":{"type":"point","shape":"triangle-right","filled":true,"size":110,"opacity":1},"encoding":{"x":{"field":"x2","type":"quantitative"},"y":{"field":"y2","type":"quantitative"},"fill":{"field":"s","type":"nominal","legend":null}}},
{"data":{"name":"lab"},"transform":[{"filter":"datum.p=='b'"}],"mark":{"type":"text","font":"Liberation Serif","fontWeight":"bold","fontSize":18},"encoding":{"x":{"field":"x","type":"quantitative"},"y":{"field":"y","type":"quantitative"},"text":{"field":"s"},"fill":{"field":"s","type":"nominal","legend":null}}},
{"data":{"name":"txt"},"transform":[{"filter":"datum.p=='b' && datum.k=='m'"}],"mark":{"type":"text","font":"Liberation Serif","fontWeight":"bold","fontSize":22,"color":"#c4309c"},"encoding":{"x":{"field":"x","type":"quantitative"},"y":{"field":"y","type":"quantitative"},"text":{"field":"t"}}},
{"data":{"name":"txt"},"transform":[{"filter":"datum.p=='b' && datum.k=='n'"}],"mark":{"type":"text","font":"Liberation Serif","fontWeight":"bold","fontSize":21,"color":"#4e5ab8"},"encoding":{"x":{"field":"x","type":"quantitative"},"y":{"field":"y","type":"quantitative"},"text":{"field":"t"}}},
{"data":{"name":"txt"},"transform":[{"filter":"datum.p=='b' && datum.k=='t'"}],"mark":{"type":"text","font":"Liberation Serif","fontWeight":"bold","fontSize":29,"color":"#000000"},"encoding":{"x":{"field":"x","type":"quantitative"},"y":{"field":"y","type":"quantitative"},"text":{"field":"t"}}}
]},
{"width":320,"height":239,"layer":[
{"data":{"name":"c"},"mark":{"type":"line","strokeWidth":1.2},"encoding":{"x":{"field":"v","type":"quantitative","scale":{"domain":[-6,6],"nice":false,"zero":false},"axis":{"title":"Voltage (V)","values":[-6,-5,-4,-3,-2,-1,0,1,2,3,4,5,6],"labelFlush":false}},"y":{"field":"i","type":"quantitative","scale":{"type":"log","domain":[1e-18,0.01],"nice":false},"axis":{"title":"Current (A)","values":[1e-18,1e-16,1e-14,1e-12,1e-10,1e-8,1e-6,1e-4,0.01],"labelExpr":"datum.value > 0.005 ? '0.01' : '1E-' + round(-log(datum.value)/LN10)","labelOverlap":false}},"color":{"field":"s","type":"nominal","scale":{"domain":["1","2","3","4","5","6"],"range":["#000000","#f52c2c","#3b46b2","#178b8b","#c45ac8","#f7941d"]},"legend":{"title":null,"orient":"none","legendX":265,"legendY":42}}}},
{"data":{"name":"c"},"transform":[{"filter":"abs(datum.v*10/3-round(datum.v*10/3))<0.01"}],"mark":{"type":"point","filled":true,"size":65,"opacity":1},"encoding":{"x":{"field":"v","type":"quantitative"},"y":{"field":"i","type":"quantitative"},"color":{"field":"s","type":"nominal","legend":{"title":null,"orient":"none","legendX":265,"legendY":42}},"shape":{"field":"s","type":"nominal","scale":{"domain":["1","2","3","4","5","6"],"range":["square","circle","triangle-up","triangle-down","triangle-left","triangle-right"]},"legend":{"title":null,"orient":"none","legendX":265,"legendY":42}}}},
{"data":{"name":"ann"},"transform":[{"filter":"datum.p=='c'"}],"mark":{"type":"rule","strokeWidth":2.2},"encoding":{"x":{"field":"x","type":"quantitative"},"y":{"field":"y","type":"quantitative"},"x2":{"field":"x2"},"y2":{"field":"y2"},"stroke":{"field":"s","type":"nominal","scale":{"domain":["1","2","3","4","5","6"],"range":["#000000","#ff1a1a","#3b46b8","#178b8b","#f0249a","#f7941d"]},"legend":null}}},
{"data":{"name":"ann"},"transform":[{"filter":"datum.p=='c' && datum.d=='UL'"}],"mark":{"type":"point","shape":"triangle-left","angle":12,"filled":true,"size":110,"opacity":1},"encoding":{"x":{"field":"x2","type":"quantitative"},"y":{"field":"y2","type":"quantitative"},"fill":{"field":"s","type":"nominal","scale":{"domain":["1","2","3","4","5","6"],"range":["#000000","#ff1a1a","#3b46b8","#178b8b","#f0249a","#f7941d"]},"legend":null}}},
{"data":{"name":"ann"},"transform":[{"filter":"datum.p=='c' && datum.d=='UR'"}],"mark":{"type":"point","shape":"triangle-right","angle":348,"filled":true,"size":110,"opacity":1},"encoding":{"x":{"field":"x2","type":"quantitative"},"y":{"field":"y2","type":"quantitative"},"fill":{"field":"s","type":"nominal","legend":null}}},
{"data":{"name":"ann"},"transform":[{"filter":"datum.p=='c' && datum.d=='U'"}],"mark":{"type":"point","shape":"triangle-up","filled":true,"size":110,"opacity":1},"encoding":{"x":{"field":"x2","type":"quantitative"},"y":{"field":"y2","type":"quantitative"},"fill":{"field":"s","type":"nominal","legend":null}}},
{"data":{"name":"ann"},"transform":[{"filter":"datum.p=='c' && datum.d=='L'"}],"mark":{"type":"point","shape":"triangle-left","filled":true,"size":110,"opacity":1},"encoding":{"x":{"field":"x2","type":"quantitative"},"y":{"field":"y2","type":"quantitative"},"fill":{"field":"s","type":"nominal","legend":null}}},
{"data":{"name":"ann"},"transform":[{"filter":"datum.p=='c' && datum.d=='R'"}],"mark":{"type":"point","shape":"triangle-right","filled":true,"size":110,"opacity":1},"encoding":{"x":{"field":"x2","type":"quantitative"},"y":{"field":"y2","type":"quantitative"},"fill":{"field":"s","type":"nominal","legend":null}}},
{"data":{"name":"lab"},"transform":[{"filter":"datum.p=='c'"}],"mark":{"type":"text","font":"Liberation Serif","fontWeight":"bold","fontSize":18},"encoding":{"x":{"field":"x","type":"quantitative"},"y":{"field":"y","type":"quantitative"},"text":{"field":"s"},"fill":{"field":"s","type":"nominal","legend":null}}},
{"data":{"name":"txt"},"transform":[{"filter":"datum.p=='c' && datum.k=='m'"}],"mark":{"type":"text","font":"Liberation Serif","fontWeight":"bold","fontSize":22,"color":"#c4309c"},"encoding":{"x":{"field":"x","type":"quantitative"},"y":{"field":"y","type":"quantitative"},"text":{"field":"t"}}},
{"data":{"name":"txt"},"transform":[{"filter":"datum.p=='c' && datum.k=='n'"}],"mark":{"type":"text","font":"Liberation Serif","fontWeight":"bold","fontSize":21,"color":"#4e5ab8"},"encoding":{"x":{"field":"x","type":"quantitative"},"y":{"field":"y","type":"quantitative"},"text":{"field":"t"}}},
{"data":{"name":"txt"},"transform":[{"filter":"datum.p=='c' && datum.k=='t'"}],"mark":{"type":"text","font":"Liberation Serif","fontWeight":"bold","fontSize":29,"color":"#000000"},"encoding":{"x":{"field":"x","type":"quantitative"},"y":{"field":"y","type":"quantitative"},"text":{"field":"t"}}}
]},
{"width":320,"height":238,"layer":[
{"data":{"name":"d"},"mark":{"type":"line","strokeWidth":1.2},"encoding":{"x":{"field":"v","type":"quantitative","scale":{"domain":[-6,6],"nice":false,"zero":false},"axis":{"title":"Voltage (V)","values":[-6,-5,-4,-3,-2,-1,0,1,2,3,4,5,6],"labelFlush":false}},"y":{"field":"i","type":"quantitative","scale":{"type":"log","domain":[1e-18,0.01],"nice":false},"axis":{"title":"Current (A)","values":[1e-18,1e-16,1e-14,1e-12,1e-10,1e-8,1e-6,1e-4,0.01],"labelExpr":"datum.value > 0.005 ? '0.01' : '1E-' + round(-log(datum.value)/LN10)","labelOverlap":false}},"color":{"field":"s","type":"nominal","scale":{"domain":["1","2","3","4","5"],"range":["#000000","#f52c2c","#3b46b2","#178b8b","#f7941d"]},"legend":{"title":null,"orient":"none","legendX":266,"legendY":46}}}},
{"data":{"name":"d"},"transform":[{"filter":"abs(datum.v*10/3-round(datum.v*10/3))<0.01"}],"mark":{"type":"point","filled":true,"size":65,"opacity":1},"encoding":{"x":{"field":"v","type":"quantitative"},"y":{"field":"i","type":"quantitative"},"color":{"field":"s","type":"nominal","legend":{"title":null,"orient":"none","legendX":266,"legendY":46}},"shape":{"field":"s","type":"nominal","scale":{"domain":["1","2","3","4","5"],"range":["square","circle","triangle-up","triangle-down","triangle-right"]},"legend":{"title":null,"orient":"none","legendX":266,"legendY":46}}}},
{"data":{"name":"ann"},"transform":[{"filter":"datum.p=='d'"}],"mark":{"type":"rule","strokeWidth":2.2},"encoding":{"x":{"field":"x","type":"quantitative"},"y":{"field":"y","type":"quantitative"},"x2":{"field":"x2"},"y2":{"field":"y2"},"stroke":{"field":"s","type":"nominal","scale":{"domain":["1","2","3","4","5"],"range":["#000000","#ff1a1a","#3b46b8","#178b8b","#f7941d"]},"legend":null}}},
{"data":{"name":"ann"},"transform":[{"filter":"datum.p=='d' && datum.d=='UL'"}],"mark":{"type":"point","shape":"triangle-left","angle":12,"filled":true,"size":110,"opacity":1},"encoding":{"x":{"field":"x2","type":"quantitative"},"y":{"field":"y2","type":"quantitative"},"fill":{"field":"s","type":"nominal","scale":{"domain":["1","2","3","4","5"],"range":["#000000","#ff1a1a","#3b46b8","#178b8b","#f7941d"]},"legend":null}}},
{"data":{"name":"ann"},"transform":[{"filter":"datum.p=='d' && datum.d=='UR'"}],"mark":{"type":"point","shape":"triangle-right","angle":348,"filled":true,"size":110,"opacity":1},"encoding":{"x":{"field":"x2","type":"quantitative"},"y":{"field":"y2","type":"quantitative"},"fill":{"field":"s","type":"nominal","legend":null}}},
{"data":{"name":"ann"},"transform":[{"filter":"datum.p=='d' && datum.d=='U'"}],"mark":{"type":"point","shape":"triangle-up","filled":true,"size":110,"opacity":1},"encoding":{"x":{"field":"x2","type":"quantitative"},"y":{"field":"y2","type":"quantitative"},"fill":{"field":"s","type":"nominal","legend":null}}},
{"data":{"name":"ann"},"transform":[{"filter":"datum.p=='d' && datum.d=='L'"}],"mark":{"type":"point","shape":"triangle-left","filled":true,"size":110,"opacity":1},"encoding":{"x":{"field":"x2","type":"quantitative"},"y":{"field":"y2","type":"quantitative"},"fill":{"field":"s","type":"nominal","legend":null}}},
{"data":{"name":"ann"},"transform":[{"filter":"datum.p=='d' && datum.d=='R'"}],"mark":{"type":"point","shape":"triangle-right","filled":true,"size":110,"opacity":1},"encoding":{"x":{"field":"x2","type":"quantitative"},"y":{"field":"y2","type":"quantitative"},"fill":{"field":"s","type":"nominal","legend":null}}},
{"data":{"name":"lab"},"transform":[{"filter":"datum.p=='d'"}],"mark":{"type":"text","font":"Liberation Serif","fontWeight":"bold","fontSize":18},"encoding":{"x":{"field":"x","type":"quantitative"},"y":{"field":"y","type":"quantitative"},"text":{"field":"s"},"fill":{"field":"s","type":"nominal","legend":null}}},
{"data":{"name":"txt"},"transform":[{"filter":"datum.p=='d' && datum.k=='m'"}],"mark":{"type":"text","font":"Liberation Serif","fontWeight":"bold","fontSize":22,"color":"#c4309c"},"encoding":{"x":{"field":"x","type":"quantitative"},"y":{"field":"y","type":"quantitative"},"text":{"field":"t"}}},
{"data":{"name":"txt"},"transform":[{"filter":"datum.p=='d' && datum.k=='n'"}],"mark":{"type":"text","font":"Liberation Serif","fontWeight":"bold","fontSize":21,"color":"#4e5ab8"},"encoding":{"x":{"field":"x","type":"quantitative"},"y":{"field":"y","type":"quantitative"},"text":{"field":"t"}}},
{"data":{"name":"txt"},"transform":[{"filter":"datum.p=='d' && datum.k=='t'"}],"mark":{"type":"text","font":"Liberation Serif","fontWeight":"bold","fontSize":29,"color":"#000000"},"encoding":{"x":{"field":"x","type":"quantitative"},"y":{"field":"y","type":"quantitative"},"text":{"field":"t"}}}
]},
{"width":320,"height":238,"layer":[
{"data":{"name":"e"},"mark":{"type":"line","strokeWidth":1.2},"encoding":{"x":{"field":"v","type":"quantitative","scale":{"domain":[-6,6],"nice":false,"zero":false},"axis":{"title":"Voltage (V)","values":[-6,-5,-4,-3,-2,-1,0,1,2,3,4,5,6],"labelFlush":false}},"y":{"field":"i","type":"quantitative","scale":{"type":"log","domain":[1e-18,0.01],"nice":false},"axis":{"title":"Current (A)","values":[1e-18,1e-16,1e-14,1e-12,1e-10,1e-8,1e-6,1e-4,0.01],"labelExpr":"datum.value > 0.005 ? '0.01' : '1E-' + round(-log(datum.value)/LN10)","labelOverlap":false}},"color":{"field":"s","type":"nominal","scale":{"domain":["1","2","3","4","5"],"range":["#000000","#f52c2c","#3b46b2","#178b8b","#f7941d"]},"legend":{"title":null,"orient":"none","legendX":261,"legendY":62}}}},
{"data":{"name":"e"},"transform":[{"filter":"abs(datum.v*2-round(datum.v*2))<0.01"}],"mark":{"type":"point","filled":true,"size":65,"opacity":1},"encoding":{"x":{"field":"v","type":"quantitative"},"y":{"field":"i","type":"quantitative"},"color":{"field":"s","type":"nominal","legend":{"title":null,"orient":"none","legendX":261,"legendY":62}},"shape":{"field":"s","type":"nominal","scale":{"domain":["1","2","3","4","5"],"range":["square","circle","triangle-up","triangle-down","triangle-left"]},"legend":{"title":null,"orient":"none","legendX":261,"legendY":62}}}},
{"data":{"name":"ann"},"transform":[{"filter":"datum.p=='e'"}],"mark":{"type":"rule","strokeWidth":2.2},"encoding":{"x":{"field":"x","type":"quantitative"},"y":{"field":"y","type":"quantitative"},"x2":{"field":"x2"},"y2":{"field":"y2"},"stroke":{"field":"s","type":"nominal","scale":{"domain":["1","2","3","4","5"],"range":["#000000","#ff1a1a","#3b46b8","#178b8b","#f7941d"]},"legend":null}}},
{"data":{"name":"ann"},"transform":[{"filter":"datum.p=='e' && datum.d=='UL'"}],"mark":{"type":"point","shape":"triangle-left","angle":14,"filled":true,"size":110,"opacity":1},"encoding":{"x":{"field":"x2","type":"quantitative"},"y":{"field":"y2","type":"quantitative"},"fill":{"field":"s","type":"nominal","scale":{"domain":["1","2","3","4","5"],"range":["#000000","#ff1a1a","#3b46b8","#178b8b","#f7941d"]},"legend":null}}},
{"data":{"name":"ann"},"transform":[{"filter":"datum.p=='e' && datum.d=='UR'"}],"mark":{"type":"point","shape":"triangle-right","angle":347,"filled":true,"size":110,"opacity":1},"encoding":{"x":{"field":"x2","type":"quantitative"},"y":{"field":"y2","type":"quantitative"},"fill":{"field":"s","type":"nominal","legend":null}}},
{"data":{"name":"ann"},"transform":[{"filter":"datum.p=='e' && datum.d=='U'"}],"mark":{"type":"point","shape":"triangle-up","filled":true,"size":110,"opacity":1},"encoding":{"x":{"field":"x2","type":"quantitative"},"y":{"field":"y2","type":"quantitative"},"fill":{"field":"s","type":"nominal","legend":null}}},
{"data":{"name":"ann"},"transform":[{"filter":"datum.p=='e' && datum.d=='L'"}],"mark":{"type":"point","shape":"triangle-left","filled":true,"size":110,"opacity":1},"encoding":{"x":{"field":"x2","type":"quantitative"},"y":{"field":"y2","type":"quantitative"},"fill":{"field":"s","type":"nominal","legend":null}}},
{"data":{"name":"ann"},"transform":[{"filter":"datum.p=='e' && datum.d=='R'"}],"mark":{"type":"point","shape":"triangle-right","filled":true,"size":110,"opacity":1},"encoding":{"x":{"field":"x2","type":"quantitative"},"y":{"field":"y2","type":"quantitative"},"fill":{"field":"s","type":"nominal","legend":null}}},
{"data":{"name":"lab"},"transform":[{"filter":"datum.p=='e'"}],"mark":{"type":"text","font":"Liberation Serif","fontWeight":"bold","fontSize":18},"encoding":{"x":{"field":"x","type":"quantitative"},"y":{"field":"y","type":"quantitative"},"text":{"field":"s"},"fill":{"field":"s","type":"nominal","legend":null}}},
{"data":{"name":"txt"},"transform":[{"filter":"datum.p=='e' && datum.k=='m'"}],"mark":{"type":"text","font":"Liberation Serif","fontWeight":"bold","fontSize":22,"color":"#c4309c"},"encoding":{"x":{"field":"x","type":"quantitative"},"y":{"field":"y","type":"quantitative"},"text":{"field":"t"}}},
{"data":{"name":"txt"},"transform":[{"filter":"datum.p=='e' && datum.k=='n'"}],"mark":{"type":"text","font":"Liberation Serif","fontWeight":"bold","fontSize":21,"color":"#4e5ab8"},"encoding":{"x":{"field":"x","type":"quantitative"},"y":{"field":"y","type":"quantitative"},"text":{"field":"t"}}},
{"data":{"name":"txt"},"transform":[{"filter":"datum.p=='e' && datum.k=='t'"}],"mark":{"type":"text","font":"Liberation Serif","fontWeight":"bold","fontSize":29,"color":"#000000"},"encoding":{"x":{"field":"x","type":"quantitative"},"y":{"field":"y","type":"quantitative"},"text":{"field":"t"}}}
]},
{"width":320,"height":238,"layer":[
{"data":{"name":"f"},"mark":{"type":"line","strokeWidth":1.2},"encoding":{"x":{"field":"v","type":"quantitative","scale":{"domain":[-6,6],"nice":false,"zero":false},"axis":{"title":"Voltage (V)","values":[-6,-5,-4,-3,-2,-1,0,1,2,3,4,5,6],"labelFlush":false}},"y":{"field":"i","type":"quantitative","scale":{"type":"log","domain":[1e-18,0.01],"nice":false},"axis":{"title":"Current (A)","values":[1e-18,1e-16,1e-14,1e-12,1e-10,1e-8,1e-6,1e-4,0.01],"labelExpr":"datum.value > 0.005 ? '0.01' : '1E-' + round(-log(datum.value)/LN10)","labelOverlap":false}},"color":{"field":"s","type":"nominal","scale":{"domain":["1","2","3","4","5"],"range":["#000000","#f52c2c","#3b46b2","#178b8b","#f7941d"]},"legend":{"title":null,"orient":"none","legendX":262,"legendY":57}}}},
{"data":{"name":"f"},"transform":[{"filter":"abs(datum.v*2-round(datum.v*2))<0.01"}],"mark":{"type":"point","filled":true,"size":65,"opacity":1},"encoding":{"x":{"field":"v","type":"quantitative"},"y":{"field":"i","type":"quantitative"},"color":{"field":"s","type":"nominal","legend":{"title":null,"orient":"none","legendX":262,"legendY":57}},"shape":{"field":"s","type":"nominal","scale":{"domain":["1","2","3","4","5"],"range":["square","circle","triangle-up","triangle-down","triangle-left"]},"legend":{"title":null,"orient":"none","legendX":262,"legendY":57}}}},
{"data":{"name":"ann"},"transform":[{"filter":"datum.p=='f'"}],"mark":{"type":"rule","strokeWidth":2.2},"encoding":{"x":{"field":"x","type":"quantitative"},"y":{"field":"y","type":"quantitative"},"x2":{"field":"x2"},"y2":{"field":"y2"},"stroke":{"field":"s","type":"nominal","scale":{"domain":["1","2","3","4","5"],"range":["#000000","#ff1a1a","#3b46b8","#178b8b","#f7941d"]},"legend":null}}},
{"data":{"name":"ann"},"transform":[{"filter":"datum.p=='f' && datum.d=='UL'"}],"mark":{"type":"point","shape":"triangle-left","angle":12,"filled":true,"size":110,"opacity":1},"encoding":{"x":{"field":"x2","type":"quantitative"},"y":{"field":"y2","type":"quantitative"},"fill":{"field":"s","type":"nominal","scale":{"domain":["1","2","3","4","5"],"range":["#000000","#ff1a1a","#3b46b8","#178b8b","#f7941d"]},"legend":null}}},
{"data":{"name":"ann"},"transform":[{"filter":"datum.p=='f' && datum.d=='UR'"}],"mark":{"type":"point","shape":"triangle-right","angle":348,"filled":true,"size":110,"opacity":1},"encoding":{"x":{"field":"x2","type":"quantitative"},"y":{"field":"y2","type":"quantitative"},"fill":{"field":"s","type":"nominal","legend":null}}},
{"data":{"name":"ann"},"transform":[{"filter":"datum.p=='f' && datum.d=='U'"}],"mark":{"type":"point","shape":"triangle-up","filled":true,"size":110,"opacity":1},"encoding":{"x":{"field":"x2","type":"quantitative"},"y":{"field":"y2","type":"quantitative"},"fill":{"field":"s","type":"nominal","legend":null}}},
{"data":{"name":"ann"},"transform":[{"filter":"datum.p=='f' && datum.d=='L'"}],"mark":{"type":"point","shape":"triangle-left","filled":true,"size":110,"opacity":1},"encoding":{"x":{"field":"x2","type":"quantitative"},"y":{"field":"y2","type":"quantitative"},"fill":{"field":"s","type":"nominal","legend":null}}},
{"data":{"name":"ann"},"transform":[{"filter":"datum.p=='f' && datum.d=='R'"}],"mark":{"type":"point","shape":"triangle-right","filled":true,"size":110,"opacity":1},"encoding":{"x":{"field":"x2","type":"quantitative"},"y":{"field":"y2","type":"quantitative"},"fill":{"field":"s","type":"nominal","legend":null}}},
{"data":{"name":"lab"},"transform":[{"filter":"datum.p=='f'"}],"mark":{"type":"text","font":"Liberation Serif","fontWeight":"bold","fontSize":18},"encoding":{"x":{"field":"x","type":"quantitative"},"y":{"field":"y","type":"quantitative"},"text":{"field":"s"},"fill":{"field":"s","type":"nominal","legend":null}}},
{"data":{"name":"txt"},"transform":[{"filter":"datum.p=='f' && datum.k=='m'"}],"mark":{"type":"text","font":"Liberation Serif","fontWeight":"bold","fontSize":22,"color":"#c4309c"},"encoding":{"x":{"field":"x","type":"quantitative"},"y":{"field":"y","type":"quantitative"},"text":{"field":"t"}}},
{"data":{"name":"txt"},"transform":[{"filter":"datum.p=='f' && datum.k=='n'"}],"mark":{"type":"text","font":"Liberation Serif","fontWeight":"bold","fontSize":21,"color":"#4e5ab8"},"encoding":{"x":{"field":"x","type":"quantitative"},"y":{"field":"y","type":"quantitative"},"text":{"field":"t"}}},
{"data":{"name":"txt"},"transform":[{"filter":"datum.p=='f' && datum.k=='t'"}],"mark":{"type":"text","font":"Liberation Serif","fontWeight":"bold","fontSize":29,"color":"#000000"},"encoding":{"x":{"field":"x","type":"quantitative"},"y":{"field":"y","type":"quantitative"},"text":{"field":"t"}}}
]}
],
"resolve":{"scale":{"x":"independent","y":"independent","color":"independent","shape":"independent","fill":"independent","stroke":"independent"},"legend":{"color":"independent","shape":"independent"}},
"config":{
"font":"Liberation Serif",
"view":{"stroke":"#000000","strokeWidth":2},
"axis":{"labelFont":"Liberation Serif","labelFontWeight":"bold","labelFontSize":17,"labelColor":"#000000","titleFont":"Liberation Serif","titleFontWeight":"bold","titleFontSize":18,"titleColor":"#000000","domain":false,"grid":false,"tickColor":"#000000","tickWidth":1.5,"tickSize":5,"labelPadding":2},
"axisX":{"titlePadding":3},
"axisY":{"titlePadding":5},
"legend":{"labelFont":"Liberation Serif","labelFontWeight":"bold","labelFontSize":15,"labelColor":"#000000","symbolSize":60,"rowPadding":1,"padding":5,"strokeColor":"#000000","strokeWidth":1.5,"fillColor":"#ffffff","symbolOffset":8,"labelOffset":12,"symbolStrokeWidth":0}
}
}
